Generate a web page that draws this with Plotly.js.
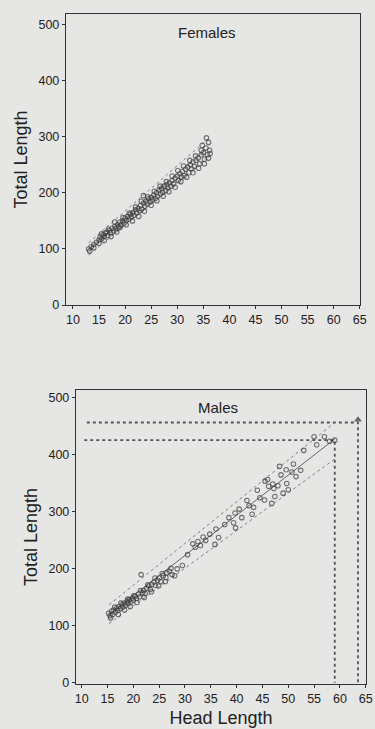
<!DOCTYPE html>
<html>
<head>
<meta charset="utf-8">
<script src="https://cdn.plot.ly/plotly-3.0.1.min.js"></script>
<style>
html,body{margin:0;padding:0;background:#e6e6e4;}
#chart{width:375px;height:729px;}
</style>
</head>
<body>
<div id="chart"></div>
<script>
// ---- Females: head length vs total length ----
var femaleHead = [13.0,13.2,13.5,14,14.5,15,15.2,15.5,15.8,16,16.2,16.5,16.7,17,17.2,17.5,17.8,18,18.2,18.5,18.7,19,19.2,19.5,19.8,20,20.2,20.5,20.7,21,21.2,21.5,21.7,22,22.2,22.5,22.8,23,23.2,23.5,23.8,24,24.2,24.5,24.8,25,25.2,25.5,25.8,26,26.2,26.5,26.8,27,27.2,27.5,27.8,28,28.2,28.5,28.8,29,29.3,29.6,30,30.2,30.5,30.8,31,31.3,31.6,32,32.2,32.5,32.8,33,33.3,33.6,34,34.3,34.6,35,35.2,35.5,35.8,36,36.2,35.6,34.8,23.5,
  14,15,15.5,16,16.8,17.3,18,18.4,19,19.6,20.2,20.8,21.4,22,22.6,23.1,23.7,24.3,25,25.6,26.1,26.7,27.3,27.9,28.4,29,29.6,30.1,30.7,31.2,31.8,32.4,33,33.5,34.1,34.6,35.2,36,36.3];
var femaleTotal = [100,96,104,108,112,116,121,118,125,122,128,130,124,133,129,137,132,140,136,143,139,148,142,150,146,155,151,158,153,162,157,165,160,170,164,172,168,178,171,182,176,185,180,190,184,192,187,196,190,200,194,205,198,208,201,212,204,215,209,218,212,222,216,226,230,222,234,228,238,231,242,246,236,250,243,255,247,258,262,252,268,272,260,280,268,290,276,298,285,195,
  102,110,127,115,135,122,148,130,138,156,143,164,150,175,158,185,167,193,178,203,186,212,194,220,202,230,210,240,220,248,228,258,236,266,244,276,252,262,270];
var femaleLineX = [13, 36];
var femaleFit = [100, 281];
var femaleUpper = [111, 297];
var femaleLower = [89, 265];

// ---- Males: head length vs total length ----
var maleHead = [15.2,15.5,15.8,16,16.2,16.5,16.8,17,17.2,17.5,17.8,18,18.2,18.5,18.8,19,19.2,19.5,19.8,20,20.3,20.6,21,21.2,21.5,21.8,22,22.3,22.6,23,23.3,23.6,24,24.3,24.7,25,25.3,25.8,26.3,26.5,27,27.5,28.5,29.5,31.5,32,32.5,33,34,34.8,35.8,36.5,37.7,39.4,39.7,39.8,41,42,42.4,43.3,43,44.5,45.4,45.5,46,46.8,47,47.2,47.4,48.3,48,48.6,49,49.6,49.7,50,50.7,51,51.5,52.4,53,55.5,55,57,58,59,
  15.6,16.4,17.1,17.6,18.3,18.9,19.4,20.1,20.7,21.4,22.1,22.8,23.5,24.2,24.9,25.6,26.2,27.3,28,30.5,33.5,36,38.5,40.5,44,46.2];
var maleTotal = [122,118,126,120,128,124,131,127,134,130,137,133,140,136,143,139,146,142,149,145,152,148,156,151,190,158,162,157,166,170,164,173,177,171,180,184,178,188,185,193,196,190,200,206,244,238,248,241,250,261,243,255,278,281,298,272,290,320,311,308,296,325,321,354,357,315,349,341,327,380,346,365,333,374,350,339,370,384,362,373,408,418,432,432,424,426,
  114,133,120,140,128,147,134,153,141,162,150,172,160,184,170,192,178,201,188,225,256,270,290,305,338,345];
var maleLineX = [15.3, 59];
var maleFit = [120, 428];
var maleUpper = [137, 457];
var maleLower = [104, 393];
// reference (projection) lines
var refHighX = [11, 63.5, 63.5];
var refHighY = [457, 457, 0];
var refLowX = [10.5, 59, 59];
var refLowY = [426, 426, 0];
var arrowX = [63.5];
var arrowY = [462];

var ptMarker = {symbol: 'circle-open', size: 4.5, color: 'rgba(60,60,60,0.7)', line: {width: 1.1}};
var fitLine = {color: '#666', width: 1};
var bandLine = {color: '#808080', width: 1, dash: 'dot'};
var refLine = {color: '#555', width: 1.8, dash: 'dot'};

var traces = [
  {x: femaleLineX, y: femaleUpper, mode: 'lines', line: bandLine, xaxis: 'x', yaxis: 'y', hoverinfo: 'skip'},
  {x: femaleLineX, y: femaleLower, mode: 'lines', line: bandLine, xaxis: 'x', yaxis: 'y', hoverinfo: 'skip'},
  {x: femaleLineX, y: femaleFit, mode: 'lines', line: {color: '#808080', width: 1, dash: 'dash'}, xaxis: 'x', yaxis: 'y', hoverinfo: 'skip'},
  {x: femaleHead, y: femaleTotal, mode: 'markers', marker: ptMarker, xaxis: 'x', yaxis: 'y', name: 'Females'},

  {x: refHighX, y: refHighY, mode: 'lines', line: refLine, xaxis: 'x2', yaxis: 'y2', hoverinfo: 'skip'},
  {x: refLowX, y: refLowY, mode: 'lines', line: refLine, xaxis: 'x2', yaxis: 'y2', hoverinfo: 'skip'},
  {x: arrowX, y: arrowY, mode: 'markers', marker: {symbol: 'triangle-up', size: 7, color: '#666'}, xaxis: 'x2', yaxis: 'y2', hoverinfo: 'skip'},
  {x: maleLineX, y: maleUpper, mode: 'lines', line: bandLine, xaxis: 'x2', yaxis: 'y2', hoverinfo: 'skip'},
  {x: maleLineX, y: maleLower, mode: 'lines', line: bandLine, xaxis: 'x2', yaxis: 'y2', hoverinfo: 'skip'},
  {x: maleLineX, y: maleFit, mode: 'lines', line: fitLine, xaxis: 'x2', yaxis: 'y2', hoverinfo: 'skip'},
  {x: maleHead, y: maleTotal, mode: 'markers', marker: ptMarker, xaxis: 'x2', yaxis: 'y2', name: 'Males'}
];

var W = 375, H = 729;
function dx(a, b) { return [a / W, b / W]; }
function dy(top, bottom) { return [1 - bottom / H, 1 - top / H]; }

var tickFont = {family: 'Liberation Sans, Arial, sans-serif', size: 12.5, color: '#222'};
var titleFont = {family: 'Liberation Sans, Arial, sans-serif', size: 18, color: '#222'};

function axisBase() {
  return {
    showgrid: false, zeroline: false, showline: true, mirror: true,
    linecolor: '#333', linewidth: 1.2,
    ticks: 'outside', ticklen: 3, tickcolor: '#333', tickwidth: 1,
    tickfont: tickFont, fixedrange: true
  };
}

var xTicks = [10,15,20,25,30,35,40,45,50,55,60,65];
var yTicks = [0,100,200,300,400,500];

var layout = {
  width: W, height: H,
  margin: {l: 0, r: 0, t: 0, b: 0},
  paper_bgcolor: '#e6e6e4',
  plot_bgcolor: '#e6e6e4',
  showlegend: false,
  font: tickFont,
  xaxis: Object.assign(axisBase(), {domain: dx(66, 360), range: [8.66, 65.05], tickvals: xTicks, anchor: 'y'}),
  yaxis: Object.assign(axisBase(), {domain: dy(14, 305), range: [0, 519], tickvals: yTicks, anchor: 'x',
    title: {text: 'Total Length', font: titleFont, standoff: 6}}),
  xaxis2: Object.assign(axisBase(), {domain: dx(76, 366), range: [8.9, 65.05], tickvals: xTicks, anchor: 'y2',
    title: {text: 'Head Length', font: titleFont, standoff: 6}}),
  yaxis2: Object.assign(axisBase(), {domain: dy(390, 684), range: [-2, 514], tickvals: yTicks, anchor: 'x2',
    title: {text: 'Total Length', font: titleFont, standoff: 6}}),
  annotations: [
    {text: 'Females', xref: 'x domain', yref: 'y domain', x: 0.48, y: 0.935, yanchor: 'middle', showarrow: false,
     font: {family: 'Liberation Sans, Arial, sans-serif', size: 15, color: '#222'}},
    {text: 'Males', xref: 'x2 domain', yref: 'y2 domain', x: 0.49, y: 0.94, yanchor: 'middle', showarrow: false,
     font: {family: 'Liberation Sans, Arial, sans-serif', size: 15, color: '#222'}}
  ]
};

Plotly.newPlot('chart', traces, layout, {displayModeBar: false, staticPlot: true});
</script>
</body>
</html>
